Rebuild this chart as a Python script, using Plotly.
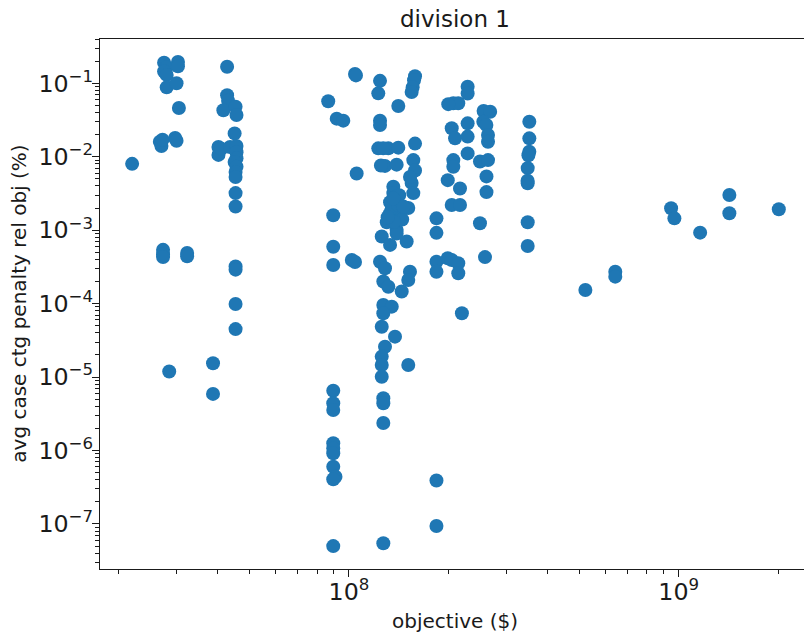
import plotly.graph_objects as go

# ---- data (objective in $, penalty in %) ----
obj_low = [2.2e7,
           2.75e7, 2.8e7, 2.75e7, 2.8e7, 2.8e7,
           3.03e7, 3.03e7, 3.0e7, 3.05e7,
           2.67e7, 2.7e7, 2.72e7, 2.97e7, 3.0e7,
           2.73e7, 2.73e7, 2.73e7, 3.23e7, 3.23e7,
           2.85e7,
           4.27e7, 4.27e7, 4.3e7, 4.16e7, 4.53e7, 4.56e7, 4.5e7, 4.02e7, 4.02e7, 4.1e7,
           4.36e7, 4.56e7, 4.56e7, 4.56e7, 4.5e7, 4.56e7, 4.53e7, 4.53e7, 4.53e7, 4.53e7,
           4.53e7, 4.53e7, 4.53e7, 4.53e7, 3.87e7, 3.87e7]
pen_low = [8.0e-3,
           0.19, 0.165, 0.145, 0.13, 0.088,
           0.195, 0.17, 0.10, 0.046,
           0.016, 0.014, 0.017, 0.018, 0.0165,
           5.4e-4, 4.7e-4, 4.3e-4, 4.9e-4, 4.4e-4,
           1.19e-5,
           0.168, 0.069, 0.058, 0.043, 0.048, 0.037, 0.0208, 0.0136, 0.0106, 0.0128,
           0.0136, 0.014, 0.0115, 0.0095, 0.0085, 0.0073, 0.0062, 0.0053, 0.0032, 0.0021,
           3.2e-4, 2.9e-4, 9.9e-5, 4.5e-5, 1.54e-5, 5.9e-6]

obj_mid1 = [8.65e7, 9.18e7, 9.61e7, 1.043e8, 1.05e8, 1.055e8, 8.96e7, 8.96e7, 8.96e7,
            1.02e8, 1.043e8, 8.96e7, 8.96e7, 8.96e7, 8.96e7, 8.96e7, 8.96e7, 8.96e7,
            9.1e7, 8.96e7, 8.96e7]
pen_mid1 = [0.057, 0.033, 0.031, 0.134, 0.128, 0.0059, 1.6e-3, 5.96e-4, 3.36e-4,
            3.93e-4, 3.69e-4, 6.5e-6, 4.4e-6, 3.56e-6, 1.26e-6, 1.07e-6, 9.2e-7, 6.0e-7,
            4.4e-7, 4.06e-7, 5.0e-8]

obj_mid2 = [1.242e8, 1.227e8, 1.411e8, 1.586e8, 1.575e8, 1.56e8, 1.549e8,
            1.242e8, 1.242e8,
            1.227e8, 1.316e8, 1.411e8, 1.586e8, 1.27e8,
            1.286e8, 1.395e8, 1.567e8, 1.25e8,
            1.586e8, 1.549e8, 1.363e8, 1.567e8, 1.363e8, 1.332e8, 1.4e8, 1.513e8,
            1.332e8, 1.428e8, 1.302e8, 1.395e8, 1.257e8, 1.332e8, 1.496e8, 1.395e8,
            1.38e8, 1.42e8, 1.35e8, 1.45e8, 1.37e8, 1.31e8, 1.41e8, 1.461e8, 1.363e8,
            1.531e8,
            1.242e8, 1.286e8, 1.271e8, 1.316e8, 1.531e8, 1.513e8, 1.445e8, 1.271e8,
            1.348e8, 1.271e8, 1.257e8, 1.379e8, 1.286e8, 1.257e8, 1.257e8, 1.513e8,
            1.257e8, 1.271e8, 1.271e8, 1.271e8, 1.271e8]
pen_mid2 = [0.108, 0.073, 0.049, 0.125, 0.11, 0.088, 0.076,
            0.031, 0.027,
            0.013, 0.013, 0.0133, 0.0151, 0.013,
            0.0075, 0.0078, 0.009, 0.0076,
            0.0065, 0.0044, 0.0039, 0.0032, 0.0032, 0.0024, 0.0024, 0.002,
            0.0017, 0.0017, 0.00128, 0.00101, 8.2e-4, 6.3e-4, 7.0e-4, 9.0e-4,
            0.0028, 0.003, 0.002, 0.0014, 0.0013, 0.0015, 0.0022, 0.0021, 0.0027,
            0.0053,
            3.72e-4, 3.03e-4, 2.0e-4, 1.7e-4, 2.72e-4, 2.1e-4, 1.46e-4, 9.6e-5,
            9.1e-5, 7.4e-5, 4.85e-5, 3.55e-5, 2.59e-5, 1.9e-5, 1.46e-5, 1.46e-5,
            1.01e-5, 5.14e-6, 4.4e-6, 2.37e-6, 5.46e-8]

obj_mid3 = [1.842e8, 1.842e8, 1.842e8, 1.842e8, 1.842e8, 1.842e8,
            2.072e8, 2.145e8, 2.0e8, 2.29e8, 2.29e8, 2.049e8, 2.097e8, 2.29e8, 2.29e8,
            2.072e8, 2.072e8, 2.29e8, 1.993e8, 2.171e8, 2.049e8, 2.171e8, 1.993e8,
            2.049e8, 2.145e8, 2.145e8, 2.2e8]
pen_mid3 = [1.45e-3, 9.2e-4, 3.72e-4, 2.72e-4, 3.9e-7, 9.4e-8,
            0.0534, 0.0534, 0.052, 0.09, 0.0726, 0.0244, 0.0178, 0.0285, 0.0188,
            0.009, 0.0073, 0.0111, 0.0048, 0.0037, 0.0022, 0.0022, 4.14e-4,
            3.93e-4, 3.54e-4, 2.59e-4, 7.4e-5]

obj_mid4 = [2.56e8, 2.68e8, 2.555e8, 2.61e8, 2.64e8, 2.64e8, 2.496e8, 2.64e8, 2.612e8,
            2.612e8, 2.496e8, 2.585e8,
            3.523e8, 3.523e8, 3.523e8, 3.5e8, 3.483e8, 3.483e8, 3.48e8, 3.483e8, 3.483e8]
pen_mid4 = [0.042, 0.041, 0.030, 0.027, 0.0198, 0.016, 0.0086, 0.009, 0.0054,
            0.0033, 0.00124, 4.3e-4,
            0.030, 0.0178, 0.0117, 0.0105, 0.0070, 0.00435, 0.0047, 0.00128, 6.1e-4]

obj_high = [5.21e8, 6.42e8, 6.42e8, 9.48e8, 9.70e8, 1.161e9, 1.424e9, 1.424e9, 2.011e9]
pen_high = [1.53e-4, 2.72e-4, 2.33e-4, 1.99e-3, 1.45e-3, 9.25e-4, 3.01e-3, 1.70e-3, 1.93e-3]

objective = obj_low + obj_mid1 + obj_mid2 + obj_mid3 + obj_mid4 + obj_high
penalty = pen_low + pen_mid1 + pen_mid2 + pen_mid3 + pen_mid4 + pen_high

title_text = "division 1"
x_label = "objective ($)"
y_label = "avg case ctg penalty rel obj (%)"

FONT = "DejaVu Sans"
INK = "#1a1a1a"

fig = go.Figure()
fig.add_trace(go.Scatter(
    x=objective, y=penalty, mode="markers",
    marker=dict(color="#1f77b4", size=14, line=dict(width=0)),
    showlegend=False, hoverinfo="x+y",
))

axis_common = dict(
    type="log", dtick=1, exponentformat="power", showexponent="all",
    showgrid=False, zeroline=False, automargin=False,
    showline=True, linecolor=INK, linewidth=1.2, mirror=True,
    ticks="outside", ticklen=7, tickwidth=1.2, tickcolor=INK,
    tickfont=dict(family=FONT, size=19, color=INK),
    minor=dict(ticks="outside", ticklen=4, tickwidth=1, tickcolor=INK,
               dtick="D1", showgrid=False),
)

fig.update_xaxes(**axis_common, range=[7.245, 9.398], ticklabelstandoff=-5)
fig.update_yaxes(**axis_common, range=[-7.613, -0.397], ticklabelstandoff=-5)

fig.add_annotation(text=title_text, xref="paper", yref="paper", x=0.5, y=1.0377,
                   xanchor="center", yanchor="middle", showarrow=False,
                   font=dict(family=FONT, size=23, color=INK))
fig.add_annotation(text=x_label, xref="paper", yref="paper", x=0.5, y=-0.098,
                   xanchor="center", yanchor="middle", showarrow=False,
                   font=dict(family=FONT, size=20, color=INK))
fig.add_annotation(text=y_label, xref="paper", yref="paper", x=-0.1145, y=0.5,
                   xanchor="center", yanchor="middle", showarrow=False, textangle=-90,
                   font=dict(family=FONT, size=20, color=INK))

# page body has an 8px default margin: size/margins compensate for it
fig.update_layout(
    width=804, height=631,
    margin=dict(l=92, r=2, t=31, b=70, pad=0),
    paper_bgcolor="white", plot_bgcolor="white",
    font=dict(family=FONT, color=INK),
)

fig.write_html("out.html")
